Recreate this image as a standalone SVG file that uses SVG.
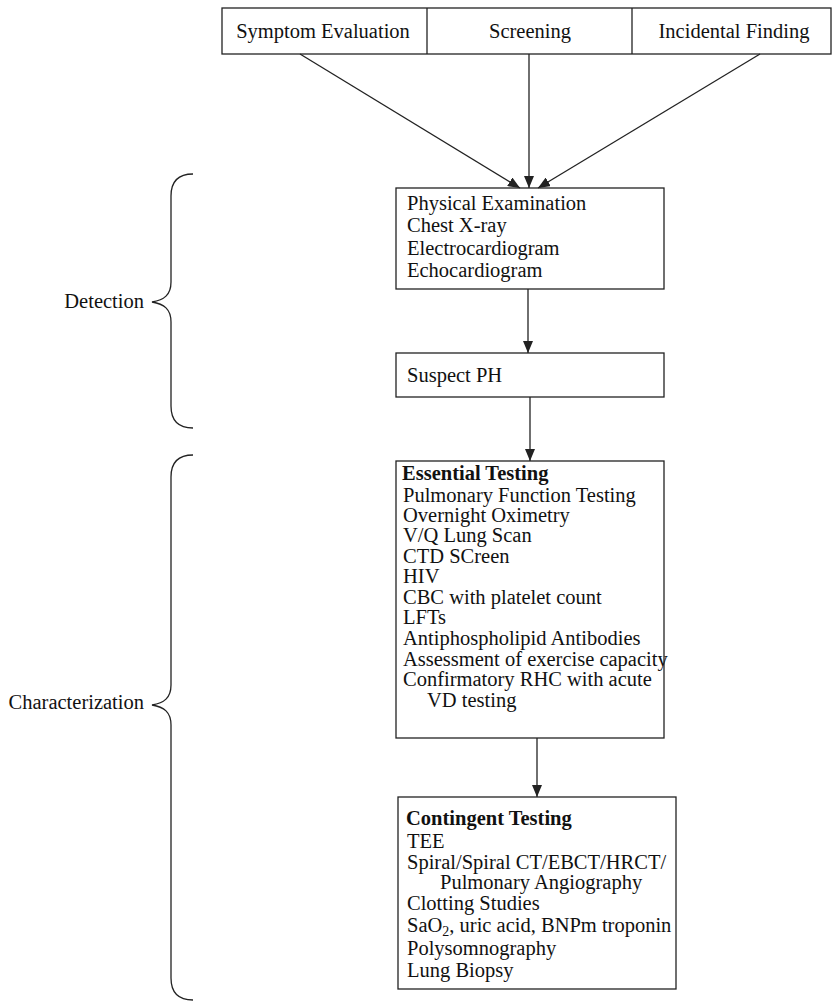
<svg xmlns="http://www.w3.org/2000/svg" width="832" height="1003" viewBox="0 0 832 1003">
<style>
  .box { fill: #fff; stroke: #222; stroke-width: 1.3; }
  .t { font-family: "Liberation Serif", "Times New Roman", serif; font-size: 20.5px; fill: #111; }
  .b { font-weight: bold; }
  .mid { text-anchor: middle; }
  .end { text-anchor: end; }
  .conn { stroke: #222; stroke-width: 1.3; fill: none; }
  .brace { stroke: #222; stroke-width: 1.3; fill: none; }
</style>
<defs>
  <marker id="arr" viewBox="0 0 12 10" refX="12" refY="5" markerWidth="12" markerHeight="10" markerUnits="userSpaceOnUse" orient="auto">
    <path d="M0,0 L12,5 L0,10 z" fill="#222"/>
  </marker>
</defs>
<rect width="832" height="1003" fill="#fff"/>

<g id="sources">
  <rect class="box" x="222" y="8" width="609" height="46"/>
  <line class="conn" x1="427" y1="8" x2="427" y2="54"/>
  <line class="conn" x1="632" y1="8" x2="632" y2="54"/>
  <g id="symptom"><text class="t mid" x="323" y="38">Symptom Evaluation</text></g>
  <g id="screening"><text class="t mid" x="530" y="38">Screening</text></g>
  <g id="incidental"><text class="t mid" x="734" y="38">Incidental Finding</text></g>
</g>

<g id="initial">
  <rect class="box" x="396" y="188" width="268" height="101"/>
  <text class="t" x="407" y="210">Physical Examination</text>
  <text class="t" x="407" y="232">Chest X-ray</text>
  <text class="t" x="407" y="255">Electrocardiogram</text>
  <text class="t" x="407" y="277">Echocardiogram</text>
</g>

<g id="suspect">
  <rect class="box" x="396" y="353" width="268" height="44"/>
  <text class="t" x="407" y="382">Suspect PH</text>
</g>

<g id="essential">
  <rect class="box" x="396" y="461" width="268" height="277"/>
  <text class="t b" x="402" y="480">Essential Testing</text>
  <text class="t" x="403" y="502">Pulmonary Function Testing</text>
  <text class="t" x="403" y="522">Overnight Oximetry</text>
  <text class="t" x="403" y="542">V/Q Lung Scan</text>
  <text class="t" x="403" y="563">CTD SCreen</text>
  <text class="t" x="403" y="583">HIV</text>
  <text class="t" x="403" y="604">CBC with platelet count</text>
  <text class="t" x="403" y="624">LFTs</text>
  <text class="t" x="403" y="645">Antiphospholipid Antibodies</text>
  <text class="t" x="403" y="666">Assessment of exercise capacity</text>
  <text class="t" x="403" y="686">Confirmatory RHC with acute</text>
  <text class="t" x="427" y="707">VD testing</text>
</g>

<g id="contingent">
  <rect class="box" x="398" y="797" width="278" height="192"/>
  <text class="t b" x="406" y="825">Contingent Testing</text>
  <text class="t" x="407" y="848">TEE</text>
  <text class="t" x="407" y="869">Spiral/Spiral CT/EBCT/HRCT/</text>
  <text class="t" x="440" y="889">Pulmonary Angiography</text>
  <text class="t" x="407" y="910">Clotting Studies</text>
  <text class="t" x="407" y="932">SaO<tspan font-size="14" dy="4">2</tspan><tspan dy="-4">, uric acid, BNPm troponin</tspan></text>
  <text class="t" x="407" y="955">Polysomnography</text>
  <text class="t" x="407" y="977">Lung Biopsy</text>
</g>

<g id="detection-label">
  <path class="brace" d="M193,174 C180,174 171,180 171,196 L171,282 C171,295 164,300 152,302 C164,304 171,309 171,322 L171,406 C171,422 180,428 193,428"/>
  <text class="t end" x="144" y="308">Detection</text>
</g>

<g id="characterization-label">
  <path class="brace" d="M193,455 C180,455 171,461 171,477 L171,685 C171,698 164,703 152,705 C164,707 171,712 171,725 L171,978 C171,994 180,1000 193,1000"/>
  <text class="t end" x="144" y="709">Characterization</text>
</g>

<g id="connectors">
  <line class="conn" x1="300" y1="54" x2="520" y2="188" marker-end="url(#arr)"/>
  <line class="conn" x1="529" y1="54" x2="529" y2="188" marker-end="url(#arr)"/>
  <line class="conn" x1="760" y1="54" x2="538" y2="188" marker-end="url(#arr)"/>
  <line class="conn" x1="528" y1="289" x2="528" y2="353" marker-end="url(#arr)"/>
  <line class="conn" x1="530" y1="397" x2="530" y2="461" marker-end="url(#arr)"/>
  <line class="conn" x1="537" y1="738" x2="537" y2="797" marker-end="url(#arr)"/>
</g>
</svg>
